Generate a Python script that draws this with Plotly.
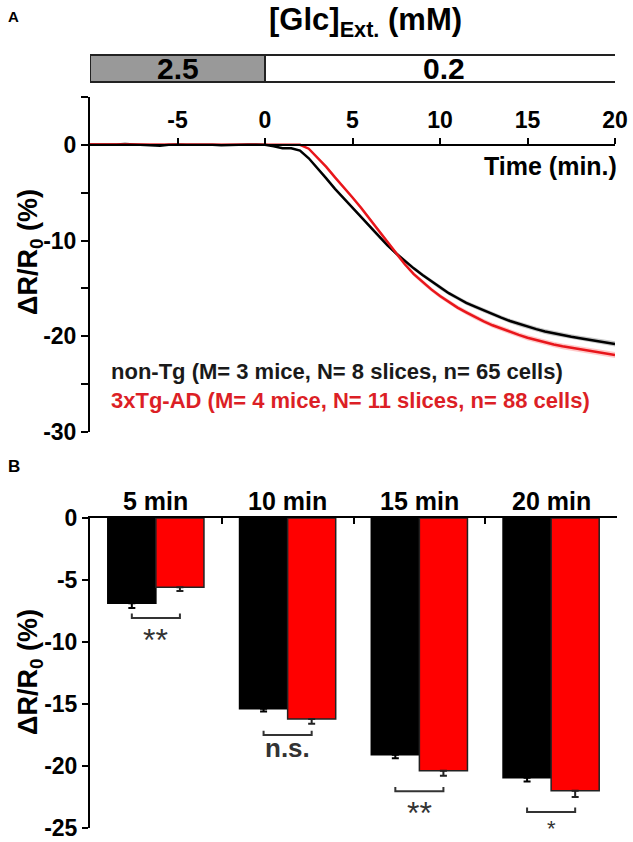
import plotly.graph_objects as go

# ---------------- data ----------------
time_min = [-10, -9.5, -9, -8.5, -8, -7.5, -7, -6.5, -6, -5.5, -5, -4.5, -4, -3.5, -3, -2.5, -2, -1.5, -1, -0.5,
            0, 0.5, 1, 1.5, 2, 2.5, 3, 3.5, 4, 4.5, 5, 5.5, 6, 6.5, 7, 7.5, 8, 8.5, 9, 9.5,
            10, 10.5, 11, 11.5, 12, 12.5, 13, 13.5, 14, 14.5, 15, 15.5, 16, 16.5, 17, 17.5, 18, 18.5, 19, 19.5, 20]

nontg_trace = [0.05, 0.05, 0.0, 0.05, 0.1, 0.05, 0.0, -0.1, -0.1, 0.0, 0.05, 0.0, 0.0, 0.05, 0.0, -0.05, 0.0, 0.05, 0.05, 0.05,
               0.0, -0.15, -0.35, -0.35, -0.6, -1.4, -2.4, -3.5, -4.6, -5.6, -6.6, -7.6, -8.6, -9.6, -10.5, -11.35, -12.15, -12.9, -13.6, -14.25,
               -14.9, -15.5, -16.0, -16.5, -16.9, -17.3, -17.7, -18.05, -18.4, -18.7, -19.0, -19.25, -19.5, -19.7, -19.9, -20.05, -20.2, -20.35, -20.5, -20.65, -20.8]

tg_trace = [0.05, 0.05, 0.05, 0.05, 0.0, 0.05, 0.05, 0.0, 0.05, 0.05, 0.05, 0.05, 0.05, 0.05, 0.05, 0.05, 0.05, 0.05, 0.05, 0.05,
            0.05, 0.05, 0.05, 0.05, 0.0, -0.4, -1.3, -2.3, -3.4, -4.4, -5.5, -6.6, -7.8, -9.0, -10.2, -11.4, -12.5, -13.5, -14.35, -15.1,
            -15.8, -16.4, -17.0, -17.5, -18.0, -18.45, -18.85, -19.2, -19.55, -19.85, -20.15, -20.4, -20.65, -20.85, -21.05, -21.2, -21.35, -21.5, -21.65, -21.8, -21.95]

nontg_sem = [0.03] * 24 + [0.05, 0.08, 0.1, 0.12, 0.13, 0.14, 0.15, 0.16, 0.17, 0.18, 0.18, 0.19, 0.19, 0.2, 0.2, 0.2,
                           0.21, 0.21, 0.21, 0.22, 0.22, 0.22, 0.23, 0.23, 0.23, 0.24, 0.24, 0.24, 0.25, 0.25, 0.25, 0.26, 0.26, 0.26, 0.27, 0.27, 0.27]
tg_sem = [0.03] * 24 + [0.05, 0.08, 0.1, 0.12, 0.14, 0.15, 0.16, 0.17, 0.18, 0.19, 0.2, 0.2, 0.21, 0.21, 0.22, 0.22,
                        0.23, 0.23, 0.24, 0.24, 0.25, 0.25, 0.26, 0.26, 0.27, 0.27, 0.28, 0.28, 0.29, 0.29, 0.3, 0.3, 0.3, 0.31, 0.31, 0.32, 0.32]

a_xticks = [-5, 0, 5, 10, 15, 20]
a_xticklabels = ["-5", "0", "5", "10", "15", "20"]
a_yticks = [0, -10, -20, -30]
a_yticklabels = ["0", "-10", "-20", "-30"]
a_yminor = [5, -5, -15, -25]

glc_periods = [-10, 0, 20.4]          # boundaries of perfusion periods (min)
glc_labels = ["2.5", "0.2"]
glc_fills = ["#999999", "#ffffff"]

bar_categories = ["5 min", "10 min", "15 min", "20 min"]
nontg_bar = [-6.87, -15.38, -19.1, -20.94]
nontg_err = [0.38, 0.22, 0.28, 0.32]
tg_bar = [-5.58, -16.2, -20.38, -21.99]
tg_err = [0.3, 0.4, 0.4, 0.5]
sig_level = [-8.06, -17.5, -22.04, -23.7]
sig_labels = ["**", "n.s.", "**", "*"]
b_yticks = [0, -5, -10, -15, -20, -25]
b_yticklabels = ["0", "-5", "-10", "-15", "-20", "-25"]

legend_nontg = "non-Tg (M= 3 mice, N= 8 slices, n= 65 cells)"
legend_tg = "3xTg-AD (M= 4 mice, N= 11 slices, n= 88 cells)"

# ---------------- layout constants ----------------
W, H = 633, 842
FONT = "Liberation Sans, Arial, sans-serif"
BLACK = "#000000"
RED_LINE = "#e8161b"
RED_TEXT = "#dc1f26"
RED_BAR = "#ff0000"
DARK = "#333333"


def px_x(p):
    return p / W


def px_y(p):
    return 1 - p / H


xA_dom = [px_x(90), px_x(615)]
yA_dom = [px_y(432), px_y(97)]
xB_dom = [px_x(90), px_x(617)]
yB_dom = [px_y(828), px_y(518)]
yA_range = [-30, 5]
xA_range = [-10, 20]
yB_range = [-25, 0]


def yB_to_paper(v):
    return yB_dom[0] + (v - yB_range[0]) / (yB_range[1] - yB_range[0]) * (yB_dom[1] - yB_dom[0])


fig = go.Figure()


# ---------------- panel A traces ----------------
def band(t, m, s, color):
    upper = [a + b for a, b in zip(m, s)]
    lower = [a - b for a, b in zip(m, s)]
    return go.Scatter(x=t + t[::-1], y=upper + lower[::-1], fill="toself", fillcolor=color,
                      line=dict(width=0), hoverinfo="skip", showlegend=False, xaxis="x", yaxis="y")


fig.add_trace(band(time_min, nontg_trace, nontg_sem, "rgba(0,0,0,0.22)"))
fig.add_trace(band(time_min, tg_trace, tg_sem, "rgba(255,40,40,0.25)"))
fig.add_trace(go.Scatter(x=time_min, y=nontg_trace, mode="lines", line=dict(color=BLACK, width=2.5),
                         showlegend=False, xaxis="x", yaxis="y"))
fig.add_trace(go.Scatter(x=time_min, y=tg_trace, mode="lines", line=dict(color=RED_LINE, width=2.5),
                         showlegend=False, xaxis="x", yaxis="y"))

# ---------------- panel B traces ----------------
xpos = list(range(len(bar_categories)))
fig.add_trace(go.Bar(x=xpos, y=nontg_bar, marker=dict(color=BLACK, line=dict(color=BLACK, width=1.5)),
                     error_y=dict(type="data", symmetric=False, array=[0] * 4, arrayminus=nontg_err,
                                  color=BLACK, thickness=2, width=3.5),
                     showlegend=False, xaxis="x2", yaxis="y2"))
fig.add_trace(go.Bar(x=xpos, y=tg_bar, marker=dict(color=RED_BAR, line=dict(color="#222222", width=1.5)),
                     error_y=dict(type="data", symmetric=False, array=[0] * 4, arrayminus=tg_err,
                                  color="#222222", thickness=2, width=3.5),
                     showlegend=False, xaxis="x2", yaxis="y2"))

bargap = 0.27
half = (1 - bargap) / 4  # distance from group center to each bar center

shapes = []
annotations = []

# significance brackets
BOTTOM_LIMIT = 841.0
for i, (lvl, lab) in enumerate(zip(sig_level, sig_labels)):
    x0, x1 = xpos[i] - half, xpos[i] + half
    shapes.append(dict(type="path", xref="x2", yref="y2",
                       path=f"M {x0},{lvl + 0.35} L {x0},{lvl} L {x1},{lvl} L {x1},{lvl + 0.35}",
                       line=dict(color=DARK, width=2)))
    if "*" in lab:
        # asterisks: box top just below the bracket; keep the text box inside the figure
        bracket_px = H - yB_to_paper(lvl) * H
        top_px = bracket_px + 2
        size = 32
        if top_px + 1.15 * size + 2 > BOTTOM_LIMIT:
            size = max(22, (BOTTOM_LIMIT - top_px - 2) / 1.15)
            top_px = min(top_px, BOTTOM_LIMIT - 1.15 * size - 2)
        annotations.append(dict(x=xpos[i], y=px_y(top_px), xref="x2", yref="paper", text=lab,
                                showarrow=False, xanchor="center", yanchor="top",
                                font=dict(family=FONT, size=size, color=DARK, weight="normal")))
    else:
        annotations.append(dict(x=xpos[i], y=yB_to_paper(lvl - 1.05), xref="x2", yref="paper", text=lab,
                                showarrow=False, xanchor="center", yanchor="middle",
                                font=dict(family=FONT, size=26, color=DARK, weight="bold")))

# category labels
for i, cat in enumerate(bar_categories):
    annotations.append(dict(x=xpos[i], y=px_y(501), xref="x2", yref="paper", text=cat, showarrow=False,
                            xanchor="center", yanchor="middle",
                            font=dict(family=FONT, size=25, color=BLACK, weight="bold")))

# glucose perfusion bar
for i, lab in enumerate(glc_labels):
    shapes.append(dict(type="rect", xref="x", yref="paper", x0=glc_periods[i], x1=glc_periods[i + 1],
                       y0=px_y(82), y1=px_y(55), fillcolor=glc_fills[i], line=dict(color="#222222", width=2)))
    annotations.append(dict(x=(glc_periods[i] + glc_periods[i + 1]) / 2, y=px_y(69), xref="x", yref="paper",
                            text=lab, showarrow=False, xanchor="center", yanchor="middle",
                            font=dict(family=FONT, size=30, color=BLACK, weight="bold")))

TITLE_Y = "ΔR/R<sub>0</sub> (%)"
annotations += [
    dict(x=px_x(365), y=px_y(22), xref="paper", yref="paper", text="[Glc]<sub>Ext.</sub> (mM)", showarrow=False,
         xanchor="center", yanchor="middle", font=dict(family=FONT, size=31, color=BLACK, weight="bold")),
    dict(x=px_x(6), y=px_y(17), xref="paper", yref="paper", text="A", showarrow=False, xanchor="left",
         yanchor="middle", font=dict(family=FONT, size=15, color=BLACK, weight="bold")),
    dict(x=px_x(6), y=px_y(467), xref="paper", yref="paper", text="B", showarrow=False, xanchor="left",
         yanchor="middle", font=dict(family=FONT, size=17, color=BLACK, weight="bold")),
    dict(x=px_x(619), y=px_y(166), xref="paper", yref="paper", text="Time (min.)", showarrow=False,
         xanchor="right", yanchor="middle", font=dict(family=FONT, size=25, color=BLACK, weight="bold")),
    dict(x=px_x(30), y=px_y(252), xref="paper", yref="paper", text=TITLE_Y, xanchor="center", yanchor="middle",
         textangle=-90, showarrow=False, font=dict(family=FONT, size=27, color=BLACK, weight="bold")),
    dict(x=px_x(30), y=px_y(672), xref="paper", yref="paper", text=TITLE_Y, xanchor="center", yanchor="middle",
         textangle=-90, showarrow=False, font=dict(family=FONT, size=27, color=BLACK, weight="bold")),
    dict(x=px_x(109), y=px_y(371), xref="paper", yref="paper", text=legend_nontg, showarrow=False, xanchor="left",
         yanchor="middle", font=dict(family=FONT, size=22, color="#1a1a1a", weight="bold")),
    dict(x=px_x(109), y=px_y(400), xref="paper", yref="paper", text=legend_tg, showarrow=False, xanchor="left",
         yanchor="middle", font=dict(family=FONT, size=22, color=RED_TEXT, weight="bold")),
]

# x axis of panel A sits at y = 0
xA_pos = yA_dom[0] + (0 - yA_range[0]) / (yA_range[1] - yA_range[0]) * (yA_dom[1] - yA_dom[0])

tickfont = dict(family=FONT, size=23, color=BLACK, weight="bold")
common = dict(showgrid=False, zeroline=False, automargin=False, linecolor=BLACK, linewidth=2,
              tickcolor=BLACK, tickwidth=2, showline=True)

fig.update_layout(
    template="none",
    width=W, height=H, autosize=False, margin=dict(l=0, r=0, t=0, b=0, pad=0),
    paper_bgcolor="white", plot_bgcolor="rgba(0,0,0,0)",
    barmode="group", bargap=bargap, bargroupgap=0,
    shapes=shapes, annotations=annotations, showlegend=False,
    xaxis=dict(domain=xA_dom, range=xA_range, anchor="free", position=xA_pos, side="top",
               ticks="outside", ticklen=6, tickmode="array", tickvals=a_xticks, ticktext=a_xticklabels,
               tickfont=tickfont, ticklabelstandoff=1, **common),
    yaxis=dict(domain=yA_dom, range=yA_range, anchor="x", ticks="outside", ticklen=7, tickmode="array",
               tickvals=a_yticks, ticktext=a_yticklabels,
               minor=dict(ticks="outside", ticklen=7, tickwidth=2, tickcolor=BLACK, tickmode="array",
                          tickvals=a_yminor, showgrid=False),
               tickfont=tickfont, **common),
    xaxis2=dict(domain=xB_dom, range=[-0.5, 3.5], anchor="y2", side="top", ticks="inside", ticklen=6,
                tickmode="array", tickvals=[0.5, 1.5, 2.5, 3.5], showticklabels=False, **common),
    yaxis2=dict(domain=yB_dom, range=yB_range, anchor="x2", ticks="outside", ticklen=6, tickmode="array",
                tickvals=b_yticks, ticktext=b_yticklabels, tickfont=tickfont, **common),
)

post = ("var d=document.getElementById('{plot_id}');"
        "d.style.position='fixed';d.style.left='0px';d.style.top='0px';"
        "document.body.style.margin='0';document.body.style.padding='0';"
        "document.body.style.overflow='hidden';document.documentElement.style.overflow='hidden';")

fig.write_html("out.html", config={"displayModeBar": False, "responsive": False}, post_script=post)
